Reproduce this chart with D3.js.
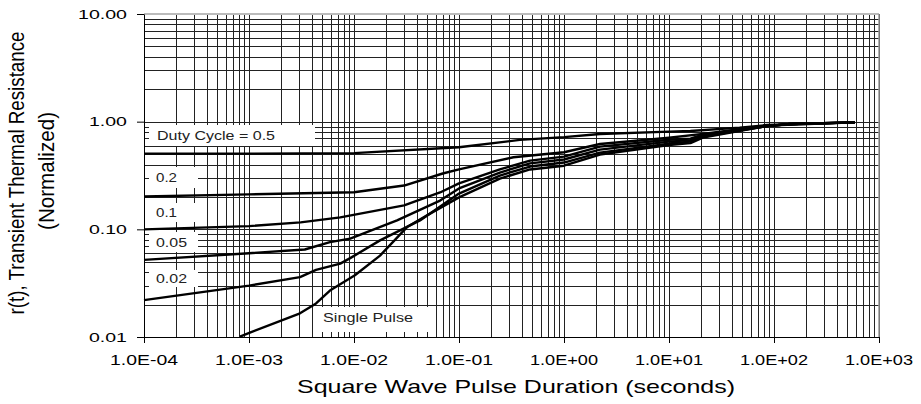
<!DOCTYPE html>
<html><head><meta charset="utf-8">
<script src="https://cdn.jsdelivr.net/npm/d3@7"></script>
<style>html,body{margin:0;padding:0;background:#fff;}svg{display:block;font-family:Arial,"Liberation Sans",sans-serif;}</style>
</head><body>
<svg id="c" width="921" height="404"></svg>
<script>
// ---- data ----
const xTickValues = [1e-4, 1e-3, 1e-2, 1e-1, 1, 10, 100, 1000];
const xTickLabels = ["1.0E-04","1.0E-03","1.0E-02","1.0E-01","1.0E+00","1.0E+01","1.0E+02","1.0E+03"];
const yTickValues = [0.01, 0.1, 1, 10];
const yTickLabels = ["0.01","0.10","1.00","10.00"];
const seriesNames = ["Duty Cycle = 0.5","0.2","0.1","0.05","0.02","Single Pulse"];

const d05_t = [1e-4, 1e-3, 0.01, 0.1, 0.38, 1, 2.2, 10, 16, 47, 86, 590];
const d05_r = [0.505, 0.505, 0.51, 0.578, 0.677, 0.718, 0.769, 0.808, 0.82, 0.88, 0.93, 0.985];
const d02_t = [1e-4, 1e-3, 0.01, 0.03, 0.07, 0.1, 0.33, 1, 2.2, 10, 21, 86, 590];
const d02_r = [0.202, 0.211, 0.221, 0.255, 0.33, 0.36, 0.467, 0.52, 0.62, 0.71, 0.77, 0.92, 0.985];
const d01_t = [1e-4, 1e-3, 3.1e-3, 7.4e-3, 0.03, 0.066, 0.1, 0.245, 0.475, 1, 2.2, 10, 16, 21, 86, 142, 590];
const d01_r = [0.1, 0.107, 0.116, 0.129, 0.167, 0.22, 0.267, 0.36, 0.435, 0.474, 0.587, 0.68, 0.696, 0.758, 0.91, 0.95, 0.985];
const d005_t = [1e-4, 1e-3, 3.4e-3, 5.9e-3, 9.2e-3, 2.57e-2, 6.6e-2, 0.1, 0.245, 0.475, 1, 2.2, 10, 16, 21, 86, 142, 590];
const d005_r = [0.052, 0.06, 0.065, 0.076, 0.082, 0.121, 0.185, 0.24, 0.337, 0.41, 0.445, 0.55, 0.653, 0.674, 0.742, 0.91, 0.95, 0.985];
const d002_t = [1e-4, 1e-3, 3.06e-3, 4.35e-3, 7.4e-3, 9.2e-3, 1.77e-2, 4.25e-2, 0.1, 0.245, 0.475, 1, 2.2, 10, 16, 21, 86, 142, 590];
const d002_r = [0.022, 0.03, 0.036, 0.042, 0.048, 0.054, 0.079, 0.121, 0.215, 0.316, 0.383, 0.417, 0.516, 0.626, 0.653, 0.726, 0.91, 0.95, 0.985];
const single_t = [8.2e-4, 1.02e-3, 3.06e-3, 4.35e-3, 5.9e-3, 1.02e-2, 1.77e-2, 3.2e-2, 5.3e-2, 0.1, 0.245, 0.475, 1, 2.2, 10, 16, 21, 86, 142, 590];
const single_r = [0.0101, 0.011, 0.0166, 0.0205, 0.027, 0.0375, 0.057, 0.105, 0.14, 0.198, 0.296, 0.36, 0.39, 0.495, 0.606, 0.632, 0.711, 0.91, 0.95, 0.985];

const xTitle = "Square Wave Pulse Duration (seconds)";
const yTitle1 = "r(t), Transient Thermal Resistance";
const yTitle2 = "(Normalized)";

// ---- chart ----
const svg = d3.select("#c");
const L = 144, R = 879, T = 14, B = 337;
const x = d3.scaleLog().domain([1e-4, 1e3]).range([L, R]);
const y = d3.scaleLog().domain([0.01, 10]).range([B, T]);

// minor grid values
const gx = [], gy = [];
for (let e = -4; e < 3; e++) for (let m = 1; m <= 9; m++) gx.push(m * Math.pow(10, e));
gx.push(1000);
for (let e = -2; e < 1; e++) for (let m = 1; m <= 9; m++) gy.push(m * Math.pow(10, e));
gy.push(10);

const grid = svg.append("g").attr("shape-rendering", "crispEdges");
grid.selectAll("line.v").data(gx).join("line")
  .attr("x1", d => Math.round(x(d)) + 0.5).attr("x2", d => Math.round(x(d)) + 0.5)
  .attr("y1", T).attr("y2", B).attr("stroke", "#222").attr("stroke-width", 1);
grid.selectAll("line.h").data(gy).join("line")
  .attr("y1", d => Math.round(y(d)) + 0.5).attr("y2", d => Math.round(y(d)) + 0.5)
  .attr("x1", L).attr("x2", R).attr("stroke", "#222").attr("stroke-width", 1);
// top / right border light gray
svg.append("line").attr("x1", L).attr("x2", R).attr("y1", T).attr("y2", T).attr("stroke", "#bbb").attr("stroke-width", 2);
svg.append("line").attr("x1", R).attr("x2", R).attr("y1", T).attr("y2", B).attr("stroke", "#999").attr("stroke-width", 1.5);

// label boxes (white, covering grid)
const boxes = [
  {x0: 149, x1: 315, y0: 125, y1: 146},
  {x0: 149, x1: 198, y0: 167, y1: 188},
  {x0: 149, x1: 198, y0: 203, y1: 222},
  {x0: 149, x1: 198, y0: 232, y1: 252},
  {x0: 149, x1: 198, y0: 270, y1: 287},
  {x0: 315, x1: 435, y0: 307, y1: 332}
];
svg.append("g").selectAll("rect").data(boxes).join("rect")
  .attr("x", d => d.x0).attr("y", d => d.y0)
  .attr("width", d => d.x1 - d.x0).attr("height", d => d.y1 - d.y0)
  .attr("fill", "#fff");

// axes
svg.append("g").attr("transform", `translate(0,${B})`)
  .call(d3.axisBottom(x).tickValues(xTickValues).tickFormat(() => "").tickSize(6).tickSizeOuter(0))
  .call(g => g.selectAll("line,path").attr("stroke", "#000"));
svg.append("g").attr("transform", `translate(${L},0)`)
  .call(d3.axisLeft(y).tickValues(yTickValues).tickFormat(() => "").tickSize(7).tickSizeOuter(0))
  .call(g => g.selectAll("line,path").attr("stroke", "#000"));

// tick labels (stretched like the source)
svg.append("g").selectAll("text").data(xTickValues).join("text")
  .attr("x", d => x(d)).attr("y", 365).attr("text-anchor", "middle")
  .attr("font-size", 15).attr("textLength", 68).attr("lengthAdjust", "spacingAndGlyphs")
  .text((d, i) => xTickLabels[i]);
svg.append("g").selectAll("text").data(yTickValues).join("text")
  .attr("x", 127).attr("y", d => y(d) + 4.5).attr("text-anchor", "end")
  .attr("font-size", 12.5)
  .attr("textLength", (d, i) => yTickLabels[i].length === 5 ? 49 : 38).attr("lengthAdjust", "spacingAndGlyphs")
  .text((d, i) => yTickLabels[i]);

// curves
const series = [
  [d05_t, d05_r], [d02_t, d02_r], [d01_t, d01_r], [d005_t, d005_r], [d002_t, d002_r], [single_t, single_r]
];
const line = d3.line().x(d => x(d[0])).y(d => y(d[1]));
svg.append("g").selectAll("path").data(series).join("path")
  .attr("d", s => line(s[0].map((t, i) => [t, s[1][i]])))
  .attr("fill", "none").attr("stroke", "#000").attr("stroke-width", 2.4)
  .attr("stroke-linejoin", "round");

// series labels
const lbl = [
  {x: 157, y: 139.5, w: 118},
  {x: 156, y: 182, w: 21},
  {x: 156, y: 217, w: 21},
  {x: 156, y: 247, w: 31},
  {x: 156, y: 283, w: 31},
  {x: 323, y: 322, w: 90}
];
svg.append("g").selectAll("text").data(seriesNames).join("text")
  .attr("x", (d, i) => lbl[i].x).attr("y", (d, i) => lbl[i].y)
  .attr("font-size", 12.5).attr("fill", "#222")
  .attr("textLength", (d, i) => lbl[i].w).attr("lengthAdjust", "spacingAndGlyphs")
  .text(d => d);

// axis titles
svg.append("text").attr("x", 297).attr("y", 393).attr("font-size", 19)
  .attr("textLength", 438).attr("lengthAdjust", "spacingAndGlyphs").text(xTitle);
svg.append("text").attr("transform", "translate(24,173) scale(1.35,1) rotate(-90)")
  .attr("text-anchor", "middle").attr("font-size", 16)
  .attr("textLength", 283).attr("lengthAdjust", "spacingAndGlyphs").text(yTitle1);
svg.append("text").attr("transform", "translate(54,171) scale(1.35,1) rotate(-90)")
  .attr("text-anchor", "middle").attr("font-size", 16)
  .attr("textLength", 118).attr("lengthAdjust", "spacingAndGlyphs").text(yTitle2);
</script>
</body></html>
